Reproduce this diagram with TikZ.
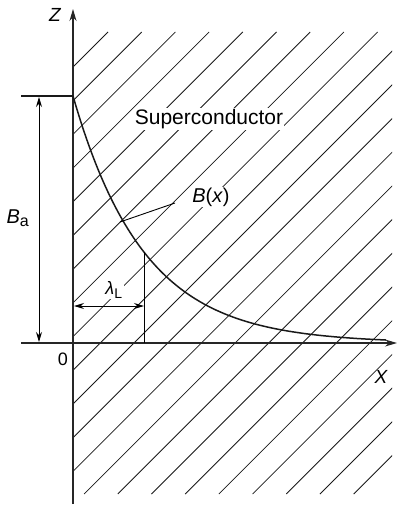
\documentclass[tikz,border=0pt]{standalone}
\usepackage{fontspec}
\setmainfont{Liberation Sans}
\usetikzlibrary{arrows.meta}
\begin{document}
\begin{tikzpicture}[x=1pt,y=-1pt,
  axis/.style={line width=1.2pt,draw=black!85,-{Stealth[length=12pt,width=7pt]}},
  hatchline/.style={line width=0.8pt,draw=black!90},
  dim/.style={line width=1pt,{Stealth[length=10pt,width=6pt]}-{Stealth[length=10pt,width=6pt]}},
  lbl/.style={font=\fontsize{20}{20}\selectfont,inner sep=1pt},
  lblw/.style={lbl,fill=white}]
\useasboundingbox (0,0) rectangle (397,505);
% hatching
\begin{scope}
\clip (73,32) rectangle (392,494);
\foreach \k in {0,...,21}{
  \pgfmathsetmacro{\c}{140+33.7*\k}
  \draw[hatchline] ({\c-494},494) -- ({\c-32},32);
}
\end{scope}
% coordinates
\coordinate (O) at (73,343);
\coordinate (zbot) at (73,504);
\coordinate (ztop) at (73,9);
\coordinate (xl) at (21,343);
\coordinate (xr) at (397,343);
\coordinate (barL) at (21,96);
\coordinate (barR) at (73,96);
\coordinate (baT) at (39,97);
\coordinate (baB) at (39,342);
\coordinate (lamT) at (144,252);
\coordinate (lamB) at (144,343);
\coordinate (lamL) at (74,306);
\coordinate (lamR) at (144,306);
\coordinate (cpt) at (120,222);
\coordinate (Bxend) at (175,203);
% axes
\draw[axis] (zbot) -- (ztop);
\draw[axis] (xl) -- (xr);
% top bar
\draw[line width=2pt,black!90] (barL) -- (barR);
% field curve
\draw[line width=1.5pt,black!90] plot[domain=73:386,samples=120,smooth] (\x,{343-247*exp(-(\x-73)/71)});
% dimension arrows
\draw[dim] (baT) -- (baB);
\draw[line width=1pt] (lamT) -- (lamB);
\draw[dim] (lamL) -- (lamR);
% labels
\node[lbl,font=\fontsize{19}{19}\selectfont\itshape] (Z) at (55,15) {Z};
\node[lbl,font=\fontsize{19}{19}\selectfont\itshape] (X) at (381,377) {X};
\node[lbl,font=\fontsize{18}{18}\selectfont] (zero) at (63,359) {0};
\node[lbl] (Ba) at (18,218) {\textit{B}\textsubscript{\fontsize{16}{16}\selectfont a}};
\node[lblw,font=\fontsize{21}{21}\selectfont] (sc) at (209,119) {Superconductor};
\node[lblw] (Bx) at (211,197) {\textit{B}(\textit{x})};
\node[lblw,font=\fontsize{18}{18}\selectfont] (lam) at (114,290) {\textit{λ}\textsubscript{\fontsize{14}{14}\selectfont L}};
\draw[line width=0.9pt] (cpt) -- (Bxend);
\end{tikzpicture}
\end{document}
